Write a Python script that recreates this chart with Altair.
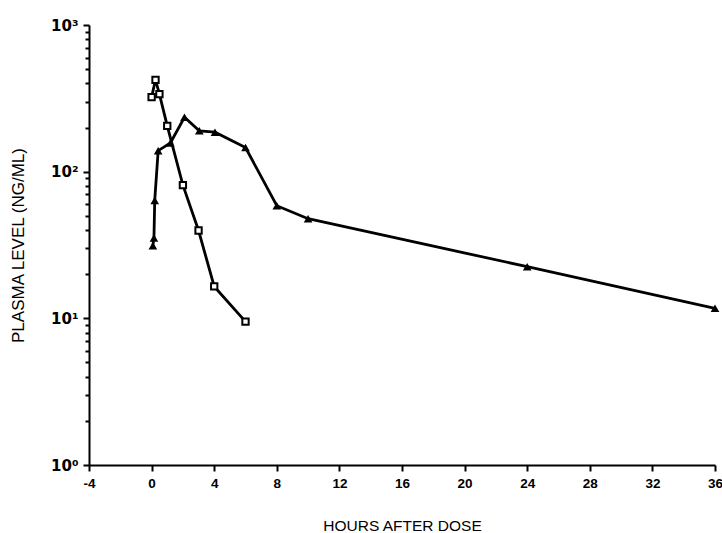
import altair as alt
import pandas as pd

# Open squares series
sq_hours = [0, 0.25, 0.5, 1, 2, 3, 4, 6]
sq_level = [322, 423, 338, 205, 81, 39.7, 16.5, 9.5]

# Filled triangles series
tri_hours = [0.08, 0.15, 0.2, 0.42, 1.2, 2.1, 3.05, 4.05, 6, 8, 10, 24, 36]
tri_level = [31.3, 35.3, 63.7, 139, 157, 235, 190, 186, 146, 58.6, 47.8, 22.5, 11.7]

x_ticks = list(range(-4, 37, 2))
y_ticks = [m * 10 ** e for e in range(0, 3) for m in range(1, 10)] + [1000]

sq = pd.DataFrame({"hours": sq_hours, "level": sq_level, "series": "A"})
tri = pd.DataFrame({"hours": tri_hours, "level": tri_level, "series": "B"})
df = pd.concat([sq, tri], ignore_index=True)

FONT = "Liberation Sans"

x = alt.X(
    "hours:Q",
    scale=alt.Scale(domain=[-4, 36], nice=False, zero=False),
    axis=alt.Axis(
        values=x_ticks,
        labelExpr="datum.value % 4 == 0 ? '' + datum.value : ''",
        tickSize={"condition": {"test": "datum.value % 4 == 0", "value": 6}, "value": 3},
        title="HOURS AFTER DOSE",
        titleFont=FONT,
        titleFontSize=15.5,
        titleFontWeight="normal",
        titleColor="black",
        titleBaseline="alphabetic",
        titleY=65,
        labelFont=FONT,
        labelFontWeight="bold",
        labelFontSize=13.5,
        labelColor="black",
        labelPadding=5,
        labelFlush=False,
        domainColor="black",
        domainWidth=2,
        tickColor="black",
        tickWidth=2,
        grid=False,
    ),
)

y = alt.Y(
    "level:Q",
    scale=alt.Scale(type="log", domain=[1, 1000], nice=False),
    axis=alt.Axis(
        values=y_ticks,
        labelExpr="datum.value == 1 ? '10⁰' : datum.value == 10 ? '10¹' : datum.value == 100 ? '10²' : datum.value == 1000 ? '10³' : ''",
        tickSize={"condition": {"test": "datum.value == 1 || datum.value == 10 || datum.value == 100 || datum.value == 1000", "value": 6}, "value": 4},
        title="PLASMA LEVEL (NG/ML)",
        titleFont=FONT,
        titleFontSize=17,
        titleFontWeight="normal",
        titleColor="black",
        titleBaseline="middle",
        titleX=-71,
        labelFont="DejaVu Sans",
        labelFontSize=15,
        labelFontWeight="bold",
        labelColor="black",
        labelPadding=5,
        labelFlush=False,
        labelOverlap=False,
        domainColor="black",
        domainWidth=2,
        tickColor="black",
        tickWidth=2,
        grid=False,
    ),
)

base = alt.Chart(df)

lines = base.mark_line(color="black", strokeWidth=2.8).encode(
    x=x, y=y, detail="series:N", order="hours:Q"
)

squares = alt.Chart(sq).mark_point(
    shape="square", filled=True, fill="white", stroke="black", strokeWidth=2, size=40, opacity=1
).encode(x="hours:Q", y="level:Q")

triangles = alt.Chart(tri).mark_point(
    shape="triangle-up", filled=True, color="black", size=75, opacity=1
).encode(x="hours:Q", y="level:Q")

chart = (
    alt.layer(lines, squares, triangles)
    .properties(
        width=626,
        height=440,
        autosize=alt.AutoSizeParams(type="none"),
        padding={"left": 89, "top": 25, "right": 7, "bottom": 68},
        background="white",
    )
    .configure_view(stroke=None)
)

chart.save("out.html", embed_options={"renderer": "svg", "actions": False})
